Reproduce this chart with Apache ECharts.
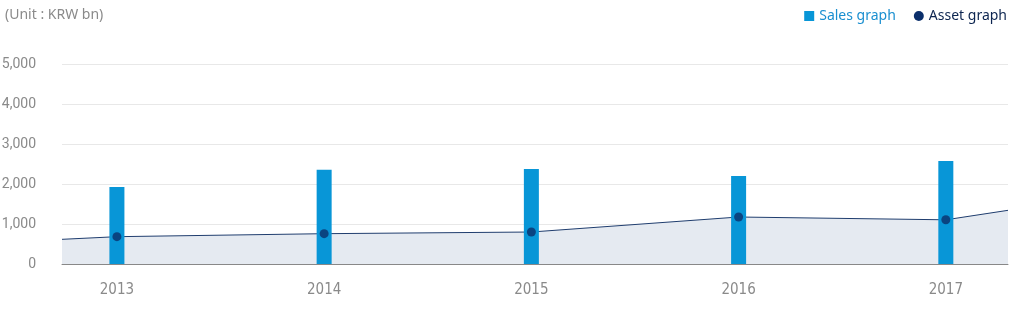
<!DOCTYPE html>
<html>
<head>
<meta charset="utf-8">
<script src="https://cdn.jsdelivr.net/npm/echarts@6/dist/echarts.min.js"></script>
<style>
  html, body { margin: 0; padding: 0; background: #fff; }
  #chart { width: 1014px; height: 335px; }
</style>
</head>
<body>
<div id="chart"></div>
<script>
// ---- data ----
const years = [2013, 2014, 2015, 2016, 2017];
const salesValues = [1925, 2358, 2375, 2200, 2575];
const assetValues = [683, 758, 800, 1175, 1105];
// asset line value where it meets the left / right plot edge
const assetEdgeValues = [617, 1342];
const yTicks = [0, 1000, 2000, 3000, 4000, 5000];

// x range of the plot (years, slightly beyond the first / last category)
const xMin = 2012.735;
const xMax = 2017.3;

const chart = echarts.init(document.getElementById('chart'));

const assetPoints = years.map((y, i) => [y, assetValues[i]]);
const assetLine = [[xMin, assetEdgeValues[0]]].concat(assetPoints).concat([[xMax, assetEdgeValues[1]]]);

chart.setOption({
  animation: false,
  title: {
    text: '(Unit : KRW bn)',
    left: 0,
    top: 3,
    textStyle: { color: '#8a8a8a', fontSize: 14, fontWeight: 'normal', fontFamily: 'Noto Sans' }
  },
  legend: {
    right: 2,
    top: 4,
    itemWidth: 10,
    itemHeight: 10,
    itemGap: 18,
    textStyle: { fontSize: 14, fontFamily: 'Noto Sans' },
    data: [
      { name: 'Sales graph', icon: 'rect', itemStyle: { color: '#0896d7' }, textStyle: { color: '#1a8fd0' } },
      { name: 'Asset graph', icon: 'circle', itemStyle: { color: '#0b2f6b' }, textStyle: { color: '#0d2550' } }
    ]
  },
  grid: { left: 62, right: 6, top: 64, bottom: 71, containLabel: false, outerBoundsMode: 'none' },
  xAxis: {
    type: 'value',
    min: xMin,
    max: xMax,
    splitLine: { show: false },
    axisTick: { show: false },
    axisLine: { show: true, lineStyle: { color: '#888888', width: 1 } },
    axisLabel: {
      customValues: years,
      formatter: v => String(Math.round(v)),
      color: '#8a8a8a',
      fontSize: 15,
      fontFamily: '"Liberation Sans Narrow", "DejaVu Sans Condensed", Roboto',
      margin: 19
    }
  },
  yAxis: {
    type: 'value',
    min: yTicks[0],
    max: yTicks[yTicks.length - 1],
    interval: 1000,
    axisLine: { show: false },
    axisTick: { show: false },
    splitLine: { lineStyle: { color: '#e8e8e8', width: 1 } },
    axisLabel: {
      color: '#8a8a8a',
      fontSize: 14,
      fontFamily: 'Roboto',
      margin: 26,
      formatter: v => v.toLocaleString('en-US')
    }
  },
  series: [
    {
      name: 'Asset graph',
      type: 'line',
      symbol: 'none',
      itemStyle: { color: '#0b2f6b' },
      lineStyle: { color: '#1f3d6e', width: 1 },
      areaStyle: { color: '#e5eaf1', opacity: 1 },
      data: assetLine,
      z: 1
    },
    {
      name: 'Sales graph',
      type: 'bar',
      barWidth: 15,
      itemStyle: { color: '#0896d7' },
      data: years.map((y, i) => [y, salesValues[i]]),
      z: 2
    },
    {
      name: 'Asset graph',
      type: 'scatter',
      symbol: 'circle',
      symbolSize: 9,
      itemStyle: { color: '#0b2f6b' },
      data: assetPoints,
      z: 3
    }
  ]
});
</script>
</body>
</html>
